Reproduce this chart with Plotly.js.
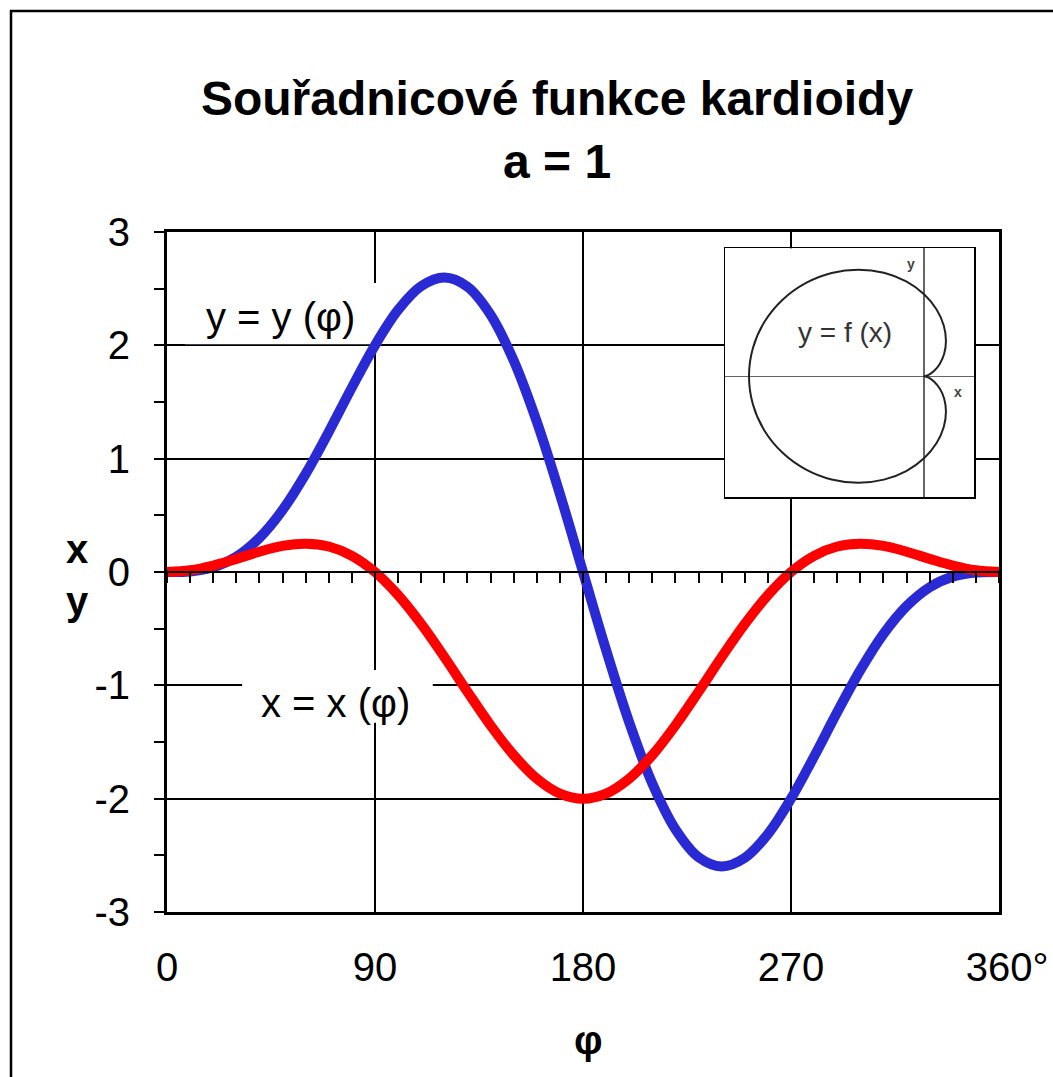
<!DOCTYPE html>
<html>
<head>
<meta charset="utf-8">
<script src="https://cdn.plot.ly/plotly-3.0.1.min.js"></script>
<style>
  html, body { margin: 0; padding: 0; background: #fff; }
  #chart { width: 1053px; height: 1077px; }
</style>
</head>
<body>
<div id="chart"></div>
<script>
// angle φ in degrees
const phiDeg = [0,10,20,30,40,50,60,70,80,90,100,110,120,130,140,150,160,170,180,
                190,200,210,220,230,240,250,260,270,280,290,300,310,320,330,340,350,360];
// x = x(φ)  (red curve)
const xVals = [0,0.015,0.057,0.116,0.179,0.23,0.25,0.225,0.143,0,-0.204,-0.459,-0.75,-1.056,-1.353,-1.616,-1.823,-1.955,-2,
               -1.955,-1.823,-1.616,-1.353,-1.056,-0.75,-0.459,-0.204,0,0.143,0.225,0.25,0.23,0.179,0.116,0.057,0.015,0];
// y = y(φ)  (blue curve)
const yVals = [0,0.005,0.041,0.134,0.301,0.547,0.866,1.237,1.628,2,2.312,2.522,2.598,2.517,2.27,1.866,1.327,0.689,0,
               -0.689,-1.327,-1.866,-2.27,-2.517,-2.598,-2.522,-2.312,-2,-1.628,-1.237,-0.866,-0.547,-0.301,-0.134,-0.041,-0.005,0];

const xTickVals = [0,90,180,270,360];
const xTickText = ['0','90','180','270','<span style="color:rgba(0,0,0,0)">°</span>360°'];
const yTickVals = [-3,-2,-1,0,1,2,3];
const yTickText = ['-3','-2','-1','0','1','2','3'];

const FONT = '"Liberation Sans", Arial, Helvetica, sans-serif';

const traces = [
  { x: phiDeg, y: yVals, mode: 'lines', line: { color: 'rgb(42,42,212)', width: 10, shape: 'spline' },
    xaxis: 'x', yaxis: 'y', hoverinfo: 'skip', showlegend: false },
  { x: phiDeg, y: xVals, mode: 'lines', line: { color: '#ff0000', width: 10, shape: 'spline' },
    xaxis: 'x', yaxis: 'y', hoverinfo: 'skip', showlegend: false },
  { x: phiDeg, y: xVals, mode: 'lines', line: { width: 0 }, opacity: 0,
    xaxis: 'x3', yaxis: 'y', hoverinfo: 'skip', showlegend: false },
  // inset: the cardioid y = f(x)
  { x: xVals, y: yVals, mode: 'lines', line: { color: '#222', width: 2, shape: 'spline' },
    xaxis: 'x2', yaxis: 'y2', hoverinfo: 'skip', showlegend: false }
];

const layout = {
  width: 1053, height: 1077,
  margin: { l: 167, r: 54, t: 232, b: 165 },
  paper_bgcolor: '#fff', plot_bgcolor: '#fff',
  font: { family: FONT, color: '#000', size: 40 },
  title: {
    text: '<b>Souřadnicové funkce kardioidy</b><br><b>a = 1</b>',
    font: { family: FONT, size: 48, color: '#000' },
    x: 0.529, xref: 'container', xanchor: 'center',
    y: 0.893, yref: 'container', yanchor: 'middle'
  },
  xaxis: {
    range: [0, 360], tickmode: 'array', tickvals: xTickVals, ticktext: xTickText,
    ticks: '', showgrid: true, gridcolor: '#000', gridwidth: 1.7,
    showline: true, linecolor: '#000', linewidth: 3, mirror: true, zeroline: false,
    tickfont: { family: FONT, size: 40 }, ticklabelstandoff: 18, fixedrange: true
  },
  xaxis3: {
    overlaying: 'x', anchor: 'free', position: 0.5, side: 'bottom',
    range: [0, 360], tickmode: 'linear', tick0: 0, dtick: 10,
    ticks: 'outside', ticklen: 10, tickwidth: 2, tickcolor: '#000',
    showticklabels: false, showgrid: false, zeroline: false,
    showline: true, linecolor: '#000', linewidth: 2, fixedrange: true
  },
  yaxis: {
    range: [-3, 3], tickmode: 'array', tickvals: yTickVals, ticktext: yTickText,
    ticks: 'outside', ticklen: 10, tickwidth: 2, tickcolor: '#000',
    minor: { tickmode: 'linear', tick0: 0, dtick: 0.5, ticks: 'outside', ticklen: 10, tickwidth: 2, tickcolor: '#000', showgrid: false },
    showgrid: true, gridcolor: '#000', gridwidth: 1.7,
    showline: true, linecolor: '#000', linewidth: 3, mirror: true, zeroline: false,
    tickfont: { family: FONT, size: 40 }, ticklabelstandoff: 16, fixedrange: true
  },
  xaxis2: {
    domain: [0.6707, 0.970], anchor: 'y2', range: [-2.274, 0.571],
    showgrid: false, zeroline: true, zerolinecolor: '#666', zerolinewidth: 1.5,
    showline: true, mirror: true, linecolor: '#000', linewidth: 1.5,
    showticklabels: false, ticks: '', fixedrange: true
  },
  yaxis2: {
    domain: [0.610, 0.976], anchor: 'x2', range: [-2.95, 3.12],
    showgrid: false, zeroline: true, zerolinecolor: '#666', zerolinewidth: 1.5,
    showline: true, mirror: true, linecolor: '#000', linewidth: 1.5,
    showticklabels: false, ticks: '', fixedrange: true
  },
  shapes: [
    // outer chart border
    { type: 'rect', xref: 'paper', yref: 'paper', x0: -0.1875, x1: 1.3, y0: -0.5, y1: 1.325,
      line: { color: '#000', width: 2.5 }, fillcolor: 'rgba(0,0,0,0)', layer: 'above' },
    // white label backgrounds (cover gridlines, below curves)
    { type: 'rect', xref: 'x', yref: 'y', x0: 7.8, x1: 93, y0: 2.01, y1: 2.55,
      line: { width: 0 }, fillcolor: '#fff', layer: 'between' },
    { type: 'rect', xref: 'x', yref: 'y', x0: 32.5, x1: 115, y0: -1.33, y1: -0.865,
      line: { width: 0 }, fillcolor: '#fff', layer: 'between' },
    // inset background
    { type: 'rect', xref: 'x2 domain', yref: 'y2 domain', x0: 0, x1: 1, y0: 0, y1: 1,
      line: { width: 0 }, fillcolor: '#fff', layer: 'below' }
  ],
  annotations: [
    { xref: 'x', yref: 'y', x: 49.3, y: 2.25, text: 'y = y (φ)', showarrow: false,
      font: { family: FONT, size: 40, color: '#000' } },
    { xref: 'x', yref: 'y', x: 72.7, y: -1.156, text: 'x = x (φ)', showarrow: false,
      font: { family: FONT, size: 40, color: '#000' } },
    { xref: 'paper', yref: 'paper', x: -0.107, y: 0.4956, text: '<b>x</b><br><b>y</b>', showarrow: false,
      font: { family: FONT, size: 40, color: '#000' }, xanchor: 'center', yanchor: 'middle' },
    { xref: 'paper', yref: 'paper', x: 0.507, y: -0.188, text: '<b>φ</b>', showarrow: false,
      font: { family: FONT, size: 40, color: '#000' }, xanchor: 'center', yanchor: 'middle' },
    // inset texts
    { xref: 'x2', yref: 'y2', x: -0.90, y: 1.07, text: 'y = f (x)', showarrow: false,
      font: { family: FONT, size: 28, color: '#333' } },
    { xref: 'x2', yref: 'y2', x: -0.15, y: 2.73, text: '<b>y</b>', showarrow: false,
      font: { family: FONT, size: 14, color: '#444' } },
    { xref: 'x2', yref: 'y2', x: 0.39, y: -0.39, text: '<b>x</b>', showarrow: false,
      font: { family: FONT, size: 14, color: '#444' } }
  ]
};

Plotly.newPlot('chart', traces, layout, { staticPlot: true, displayModeBar: false });
</script>
</body>
</html>
